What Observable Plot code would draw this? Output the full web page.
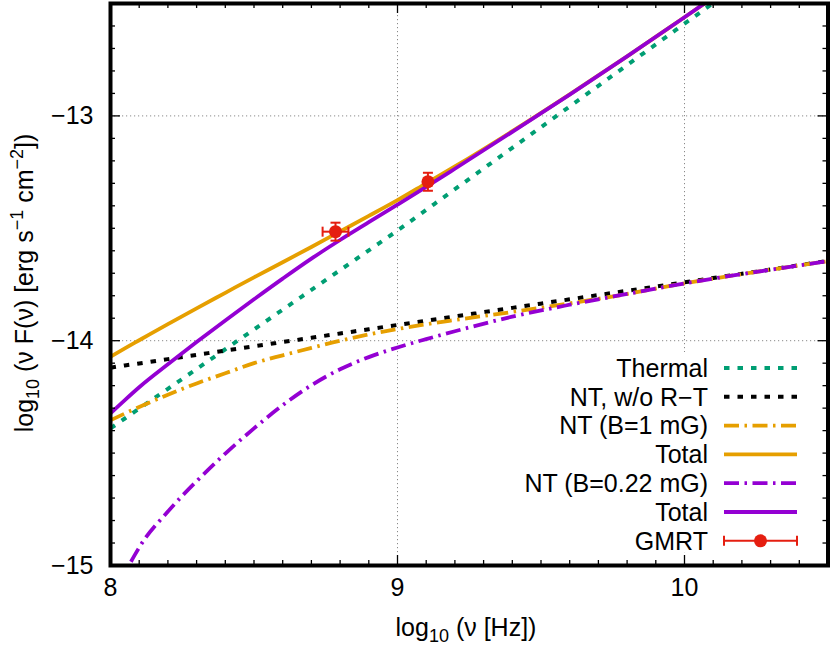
<!DOCTYPE html>
<html><head><meta charset="utf-8">
<script src="https://cdn.jsdelivr.net/npm/d3@7"></script>
<script src="https://cdn.jsdelivr.net/npm/@observablehq/plot@0.6"></script>
<style>
html,body{margin:0;padding:0;background:#fff;}
#chart svg{display:block;}
</style></head><body><div id="chart"></div>
<script>
// ---- data ----
const logNu = [8.0, 8.05, 8.1, 8.2, 8.3, 8.4, 8.5, 8.6, 8.7, 8.8, 8.9, 9.0, 9.1, 9.2, 9.4, 9.6, 9.8, 10.0, 10.25, 10.5];
const thermal   = [-14.39, -14.346, -14.302, -14.214, -14.126, -14.038, -13.95, -13.862, -13.774, -13.686, -13.598, -13.51, -13.418, -13.326, -13.142, -12.958, -12.774, -12.59, -12.36, -12.13];
const ntNoRT    = [-14.12, -14.11, -14.101, -14.082, -14.063, -14.044, -14.025, -14.006, -13.987, -13.968, -13.949, -13.93, -13.911, -13.892, -13.854, -13.816, -13.778, -13.74, -13.693, -13.645];
const ntB1      = [-14.354, -14.324, -14.295, -14.24, -14.19, -14.145, -14.10, -14.065, -14.032, -14.0, -13.972, -13.948, -13.927, -13.908, -13.872, -13.834, -13.792, -13.745, -13.694, -13.646];
const totalB1   = [-14.071, -14.034, -13.998, -13.926, -13.856, -13.787, -13.718, -13.651, -13.583, -13.514, -13.445, -13.375, -13.300, -13.225, -13.068, -12.904, -12.735, -12.561, -12.342, -12.116];
const ntB022    = [-15.22, -15.04, -14.92, -14.76, -14.625, -14.502, -14.39, -14.287, -14.198, -14.127, -14.073, -14.03, -13.993, -13.958, -13.893, -13.84, -13.792, -13.745, -13.694, -13.646];
const totalB022 = [-14.323, -14.264, -14.207, -14.105, -14.006, -13.91, -13.816, -13.724, -13.635, -13.552, -13.473, -13.395, -13.316, -13.235, -13.071, -12.905, -12.735, -12.561, -12.341, -12.117];

const gmrtNu      = [8.784, 9.106];
const gmrtNuErr   = [0.045, 0.012];
const gmrtFlux    = [-13.515, -13.293];
const gmrtFluxErr = [0.04, 0.04];

const seriesLabels = ["Thermal", "NT, w/o R\u2212T", "NT (B=1 mG)", "Total", "NT (B=0.22 mG)", "Total", "GMRT"];
const xTicks = [8, 9, 10];
const yTicks = [-15, -14, -13];
const gridX = [9, 10];
const gridY = [-14, -13];

// ---- styles ----
const W = 830, H = 646;
const mL = 110, mR = 2.5, mT = 3, mB = 81;
const plotW = W - mL - mR, plotH = H - mT - mB;
const FONT = "'Liberation Sans', Arial, Helvetica, sans-serif";
const FS = 25, FS_SMALL = 18;
const RED = "#e51e10";
const DOT = "5.5,8", DASHDOT = "15,5.5,2.5,5.5";
const styles = [
  {values: thermal,   stroke: "#009e73", dash: DOT,     width: 4},
  {values: ntNoRT,    stroke: "#000000", dash: DOT,     width: 4},
  {values: ntB1,      stroke: "#e69f00", dash: DASHDOT, width: 3.8},
  {values: totalB1,   stroke: "#e69f00", dash: null,    width: 3.8},
  {values: ntB022,    stroke: "#9400d3", dash: DASHDOT, width: 3.8},
  {values: totalB022, stroke: "#9400d3", dash: null,    width: 3.8}
];
const rows = v => logNu.map((x, i) => ({x, y: v[i]}));
const gmrt = gmrtNu.map((x, i) => ({x, y: gmrtFlux[i], xe: gmrtNuErr[i], ye: gmrtFluxErr[i]}));
const fmt = d => (d < 0 ? "\u2212" + (-d) : String(d));
const minorX = d3.range(81, 105).map(d => d / 10).filter(d => !xTicks.includes(d));
const minorY = d3.range(-149, -125).map(d => d / 10).filter(d => !yTicks.includes(d));
const hCap = {draw(ctx) { ctx.moveTo(-5, 0); ctx.lineTo(5, 0); }};
const vCap = {draw(ctx) { ctx.moveTo(0, -5); ctx.lineTo(0, 5); }};

const lineMarks = styles.map(s => Plot.line(rows(s.values), {
  x: "x", y: "y", stroke: s.stroke, strokeWidth: s.width,
  strokeDasharray: s.dash || undefined, strokeLinecap: "butt", curve: "monotone-x", clip: true
}));

const tickStyle = {stroke: "#000", strokeWidth: 1.3};
const errStyle = {stroke: RED, strokeWidth: 2};
const chart = Plot.plot({
  width: W, height: H,
  marginLeft: mL, marginRight: mR, marginTop: mT, marginBottom: mB,
  style: {fontFamily: FONT, fontSize: FS + "px", color: "#000", background: "#fff", overflow: "visible"},
  x: {domain: [8, 10.5], ticks: xTicks, tickFormat: fmt, tickSize: 0, tickPadding: 13, label: null},
  y: {domain: [-15, -12.5], ticks: yTicks, tickFormat: fmt, tickSize: 0, tickPadding: 17, label: null},
  marks: [
    Plot.ruleX(gridX, {stroke: "#8a8a8a", strokeWidth: 1, strokeDasharray: "1.2,2.8"}),
    Plot.ruleY(gridY, {stroke: "#8a8a8a", strokeWidth: 1, strokeDasharray: "1.2,2.8"}),
    ...lineMarks,
    Plot.link(gmrt, {x1: d => d.x - d.xe, x2: d => d.x + d.xe, y1: "y", y2: "y", ...errStyle}),
    Plot.link(gmrt, {x1: "x", x2: "x", y1: d => d.y - d.ye, y2: d => d.y + d.ye, ...errStyle}),
    Plot.dot(gmrt, {x: d => d.x - d.xe, y: "y", symbol: vCap, ...errStyle}),
    Plot.dot(gmrt, {x: d => d.x + d.xe, y: "y", symbol: vCap, ...errStyle}),
    Plot.dot(gmrt, {x: "x", y: d => d.y - d.ye, symbol: hCap, ...errStyle}),
    Plot.dot(gmrt, {x: "x", y: d => d.y + d.ye, symbol: hCap, ...errStyle}),
    Plot.dot(gmrt, {x: "x", y: "y", r: 6.5, fill: RED, stroke: "none"}),
    // inward ticks on all four sides
    Plot.ruleX(minorX, {...tickStyle, insetTop: plotH - 5}),
    Plot.ruleX(minorX, {...tickStyle, insetBottom: plotH - 5}),
    Plot.ruleX(xTicks, {...tickStyle, insetTop: plotH - 10}),
    Plot.ruleX(xTicks, {...tickStyle, insetBottom: plotH - 10}),
    Plot.ruleY(minorY, {...tickStyle, insetRight: plotW - 5}),
    Plot.ruleY(minorY, {...tickStyle, insetLeft: plotW - 5}),
    Plot.ruleY(yTicks, {...tickStyle, insetRight: plotW - 10}),
    Plot.ruleY(yTicks, {...tickStyle, insetLeft: plotW - 10}),
    Plot.frame({stroke: "#000", strokeWidth: 4})
  ]
});
document.getElementById("chart").appendChild(chart);

// ---- post-render: opaque key, legend, axis titles ----
const svg = d3.select(chart);
svg.insert("rect", 'g[aria-label="line"]')
  .attr("x", 480).attr("y", 352).attr("width", 332).attr("height", 200).attr("fill", "#fff");

const key = svg.append("g").attr("font-family", FONT).attr("font-size", FS);
const rowY = i => 368 + i * 28.8;
styles.forEach((s, i) => {
  const y = rowY(i);
  key.append("text").attr("x", 708).attr("y", y).attr("dy", "0.35em").attr("text-anchor", "end").text(seriesLabels[i]);
  key.append("line").attr("x1", 724).attr("x2", 797).attr("y1", y).attr("y2", y)
    .attr("stroke", s.stroke).attr("stroke-width", s.width)
    .attr("stroke-dasharray", s.dash).attr("stroke-linecap", "butt");
});
{
  const y = rowY(6);
  key.append("text").attr("x", 708).attr("y", y).attr("dy", "0.35em").attr("text-anchor", "end").text(seriesLabels[6]);
  key.append("line").attr("x1", 724).attr("x2", 797).attr("y1", y).attr("y2", y).attr("stroke", RED).attr("stroke-width", 2);
  [724, 797].forEach(x => key.append("line").attr("x1", x).attr("x2", x).attr("y1", y - 5).attr("y2", y + 5).attr("stroke", RED).attr("stroke-width", 2));
  key.append("circle").attr("cx", 760.5).attr("cy", y).attr("r", 6.5).attr("fill", RED);
}

// x title
const xt = svg.append("text").attr("x", 466).attr("y", 636).attr("text-anchor", "middle")
  .attr("font-family", FONT).attr("font-size", FS);
xt.append("tspan").text("log");
xt.append("tspan").attr("font-size", FS_SMALL).attr("dy", 6).text("10");
xt.append("tspan").attr("dy", -6).text(" (\u03bd [Hz])");

// y title
const yt = svg.append("text").attr("transform", "translate(33,283) rotate(-90)").attr("text-anchor", "middle")
  .attr("font-family", FONT).attr("font-size", FS);
yt.append("tspan").text("log");
yt.append("tspan").attr("font-size", FS_SMALL).attr("dy", 6).text("10");
yt.append("tspan").attr("dy", -6).text(" (\u03bd F(\u03bd) [erg s");
yt.append("tspan").attr("font-size", FS_SMALL).attr("dy", -10).text("\u22121");
yt.append("tspan").attr("dy", 10).text(" cm");
yt.append("tspan").attr("font-size", FS_SMALL).attr("dy", -10).text("\u22122");
yt.append("tspan").attr("dy", 10).text("])");
</script>
</body></html>
